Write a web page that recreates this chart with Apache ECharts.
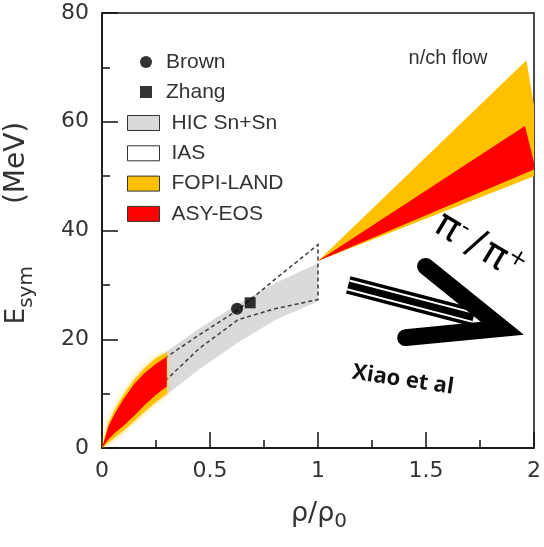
<!DOCTYPE html>
<html><head><meta charset="utf-8">
<script src="https://cdn.jsdelivr.net/npm/echarts@6/dist/echarts.min.js"></script>
<style>html,body{margin:0;padding:0;background:#fff}#c{width:544px;height:547px}</style>
</head><body><div id="c"></div>
<script>
// ---- data ----
const xTicks = [0, 0.5, 1, 1.5, 2];
const yTicks = [0, 20, 40, 60, 80];
const brown = [[0.625, 25.6]];
const zhang = [[0.686, 26.7]];
// HIC Sn+Sn band
const hicUpper = [[0.29, 17.5], [0.45, 22.0], [0.63, 26.5], [0.8, 30.3], [1.0, 34.0]];
const hicLower = [[0.29, 9.5], [0.45, 14.5], [0.63, 19.4], [0.8, 23.5], [1.0, 27.0]];
// IAS contour
const iasUpper = [[0.29, 16.5], [0.45, 20.8], [0.63, 25.4], [0.8, 31.0], [1.0, 37.4]];
const iasLower = [[0.27, 11.5], [0.45, 18.3], [0.63, 23.6], [0.8, 25.6], [1.0, 27.3]];
// FOPI-LAND (low density and high density)
const fopiLowUpper = [[0, 0], [0.03, 4.6], [0.06, 7.1], [0.1, 9.8], [0.15, 12.6], [0.2, 14.8], [0.25, 16.5], [0.3, 17.6]];
const fopiLowLower = [[0, 0], [0.03, 1.0], [0.06, 2.0], [0.1, 3.2], [0.15, 5.0], [0.2, 6.8], [0.25, 8.5], [0.3, 10.0]];
const fopiHighUpper = [[1.0, 34.4], [1.965, 71.3], [2.0, 63.0]];
const fopiHighLower = [[1.0, 34.4], [2.0, 50.0]];
// ASY-EOS (low density and high density)
const asyLowUpper = [[0, 0], [0.03, 4.0], [0.06, 6.4], [0.1, 9.0], [0.15, 11.8], [0.2, 13.9], [0.25, 15.5], [0.3, 16.8]];
const asyLowLower = [[0, 0], [0.03, 1.6], [0.06, 2.8], [0.1, 4.1], [0.15, 6.0], [0.2, 8.0], [0.25, 9.8], [0.3, 11.3]];
const asyHighUpper = [[1.0, 34.4], [1.958, 59.2], [2.0, 52.5]];
const asyHighLower = [[1.0, 34.4], [2.0, 51.2]];
// annotation arrow (data coordinates)
const arrowUpperStart = [1.498, 33.4];
const arrowLowerStart = [1.406, 20.3];
const arrowTip = [1.981, 20.5];
const shaftStart = [1.140, 30.0];
const shaftEnd = [1.720, 24.0];

const ORANGE = '#FFC000', RED = '#FF0000', GRAY = '#dadada';
const AX = '#111';

function band(name, upper, lower, style, z) {
  return {
    type: 'custom', name: name, coordinateSystem: 'cartesian2d', z: z,
    silent: true, animation: false,
    itemStyle: { color: style.fill === 'none' ? '#fff' : style.fill },
    data: [upper[0]],
    renderItem: function (params, api) {
      const pts = upper.concat(lower.slice().reverse()).map(p => api.coord(p));
      return {
        type: 'polygon',
        shape: { points: pts },
        style: {
          fill: style.fill, stroke: style.stroke || null, lineWidth: style.lineWidth || 0,
          lineDash: style.lineDash || null,
          shadowBlur: style.shadowBlur || 0, shadowColor: style.shadowColor || null
        }
      };
    }
  };
}

const chart = echarts.init(document.getElementById('c'));
const tickStyle = { color: AX, width: 1.5 };
const labelFont = { fontFamily: 'DejaVu Sans', fontSize: 22, color: '#333' };

chart.setOption({
  animation: false,
  grid: { left: 102, right: 8, top: 13, bottom: 99, show: true, borderColor: AX, borderWidth: 1.5, backgroundColor: 'transparent' },
  xAxis: {
    type: 'value', min: xTicks[0], max: xTicks[xTicks.length - 1], interval: 0.5,
    axisLine: { show: true, onZero: false, lineStyle: tickStyle },
    axisTick: { show: true, inside: true, length: 16, lineStyle: tickStyle },
    minorTick: { show: true, splitNumber: 2, length: 8, lineStyle: tickStyle },
    splitLine: { show: false },
    axisLabel: Object.assign({ margin: 12 }, labelFont)
  },
  yAxis: {
    type: 'value', min: yTicks[0], max: yTicks[yTicks.length - 1], interval: 20,
    axisLine: { show: true, onZero: false, lineStyle: tickStyle },
    axisTick: { show: true, inside: true, length: 16, lineStyle: tickStyle },
    minorTick: { show: true, splitNumber: 2, length: 8, lineStyle: tickStyle },
    splitLine: { show: false },
    axisLabel: Object.assign({ margin: 13 }, labelFont)
  },
  legend: [
    {
      orient: 'vertical', left: 135, top: 46.5, itemWidth: 22, itemHeight: 12, itemGap: 9,
      selectedMode: false,
      data: [
        { name: 'Brown', icon: 'circle', itemStyle: { color: '#000' } },
        { name: 'Zhang', icon: 'path://M0,0H10V10H0Z', itemStyle: { color: '#000' } }
      ],
      formatter: '{t|{name}}',
      textStyle: { rich: { t: { fontFamily: 'Liberation Sans', fontSize: 21, color: '#333', lineHeight: 21, padding: [0, 0, 0, 4] } } }
    },
    {
      orient: 'vertical', left: 122, top: 107.5, itemWidth: 32, itemHeight: 15, itemGap: 9.3,
      selectedMode: false, icon: 'rect',
      data: [
        { name: 'HIC Sn+Sn', itemStyle: { color: GRAY, borderColor: '#333', borderWidth: 1 } },
        { name: 'IAS', itemStyle: { color: '#fff', borderColor: '#333', borderWidth: 1 } },
        { name: 'FOPI-LAND', itemStyle: { color: ORANGE, borderColor: '#333', borderWidth: 1 } },
        { name: 'ASY-EOS', itemStyle: { color: RED, borderColor: '#333', borderWidth: 1 } }
      ],
      formatter: '{t|{name}}',
      textStyle: { rich: { t: { fontFamily: 'Liberation Sans', fontSize: 21, color: '#333', lineHeight: 21, padding: [0, 0, 0, 7] } } }
    }
  ],
  series: [
    band('HIC Sn+Sn', hicUpper, hicLower, { fill: GRAY }, 1),
    band('IAS', iasUpper, iasLower, { fill: 'none', stroke: '#444', lineWidth: 1.6, lineDash: [4, 3] }, 2),
    band('FOPI-LAND', fopiLowUpper, fopiLowLower, { fill: ORANGE, shadowBlur: 5, shadowColor: 'rgba(255,205,40,0.9)' }, 3),
    band('FOPI-LAND', fopiHighUpper, fopiHighLower, { fill: ORANGE }, 3),
    band('ASY-EOS', asyLowUpper, asyLowLower, { fill: RED }, 4),
    band('ASY-EOS', asyHighUpper, asyHighLower, { fill: RED }, 4),
    { type: 'scatter', name: 'Brown', data: brown, symbol: 'circle', symbolSize: 12, itemStyle: { color: '#000' }, z: 6, silent: true },
    { type: 'scatter', name: 'Zhang', data: zhang, symbol: 'rect', symbolSize: 11, itemStyle: { color: '#000' }, z: 6, silent: true }
  ]
});

// ---- annotations ----
const P = p => chart.convertToPixel({ gridIndex: 0 }, p);
const S1 = P(arrowUpperStart), S2 = P(arrowLowerStart), T = P(arrowTip);
const A = P(shaftStart), B = P(shaftEnd);
const W = 17;
function norm(v) { const l = Math.hypot(v[0], v[1]); return [v[0] / l, v[1] / l]; }
const u1 = norm([S1[0] - T[0], S1[1] - T[1]]), u2 = norm([S2[0] - T[0], S2[1] - T[1]]);
const theta = Math.acos(u1[0] * u2[0] + u1[1] * u2[1]);
const bis = norm([u1[0] + u2[0], u1[1] + u2[1]]);
const d = (W / 2) / Math.sin(theta / 2);
const V = [T[0] + bis[0] * d, T[1] + bis[1] * d];
const sd = norm([B[0] - A[0], B[1] - A[1]]), sn = [-sd[1], sd[0]];
function off(p, k) { return [p[0] + sn[0] * k, p[1] + sn[1] * k]; }

chart.setOption({
  graphic: [
    { type: 'polyline', z: 100, shape: { points: [A, B] }, style: { stroke: '#000', lineWidth: 18, lineCap: 'butt', fill: null } },
    { type: 'polyline', z: 101, shape: { points: [off(A, -4.5), off(B, -4.5)] }, style: { stroke: '#fff', lineWidth: 2, fill: null } },
    { type: 'polyline', z: 101, shape: { points: [off(A, 4.5), off(B, 4.5)] }, style: { stroke: '#fff', lineWidth: 2, fill: null } },
    { type: 'polyline', z: 102, shape: { points: [S1, V, S2] }, style: { stroke: '#000', lineWidth: W, lineCap: 'round', lineJoin: 'miter', miterLimit: 20, fill: null } },
    { type: 'text', z: 103, x: 479, y: 247, rotation: -0.54,
      style: { text: '{p|π}{u|-}{q|/}{p|π}{u|+}', align: 'center', verticalAlign: 'middle',
        rich: {
          p: { fontFamily: 'DejaVu Sans', fontSize: 39, lineHeight: 42, fill: '#000' },
          q: { fontFamily: 'DejaVu Sans', fontSize: 39, lineHeight: 42, fill: '#000', padding: [0, 4, 0, 6] },
          u: { fontFamily: 'DejaVu Sans', fontSize: 23, lineHeight: 20, verticalAlign: 'top', fill: '#000' }
        } } },
    { type: 'text', z: 103, x: 403, y: 380, rotation: -0.15,
      style: { text: 'Xiao et al', fontFamily: 'Open Sans', fontWeight: 'bold', fontSize: 22, fill: '#111', align: 'center', verticalAlign: 'middle' } },
    { type: 'text', z: 103, x: 448, y: 58,
      style: { text: 'n/ch flow', fontFamily: 'Liberation Sans', fontSize: 20, fill: '#333', align: 'center', verticalAlign: 'middle' } },
    { type: 'text', z: 103, x: 17, y: 223, rotation: Math.PI / 2,
      style: { text: '{e|E}{s|sym}{m|(MeV)}', align: 'center', verticalAlign: 'middle',
        rich: {
          e: { fontFamily: 'DejaVu Sans', fontSize: 26, lineHeight: 40, fill: '#333' },
          s: { fontFamily: 'DejaVu Sans', fontSize: 20, lineHeight: 14, verticalAlign: 'bottom', fill: '#333' },
          m: { fontFamily: 'DejaVu Sans', fontSize: 28, lineHeight: 40, fill: '#333', padding: [0, 0, 0, 62] }
        } } },
    { type: 'text', z: 103, x: 319, y: 514,
      style: { text: '{r|ρ/ρ}{s|0}', align: 'center', verticalAlign: 'middle',
        rich: {
          r: { fontFamily: 'DejaVu Sans', fontSize: 27, lineHeight: 36, fill: '#333' },
          s: { fontFamily: 'DejaVu Sans', fontSize: 20, lineHeight: 14, verticalAlign: 'bottom', fill: '#333' }
        } } }
  ]
});
</script>
</body></html>
